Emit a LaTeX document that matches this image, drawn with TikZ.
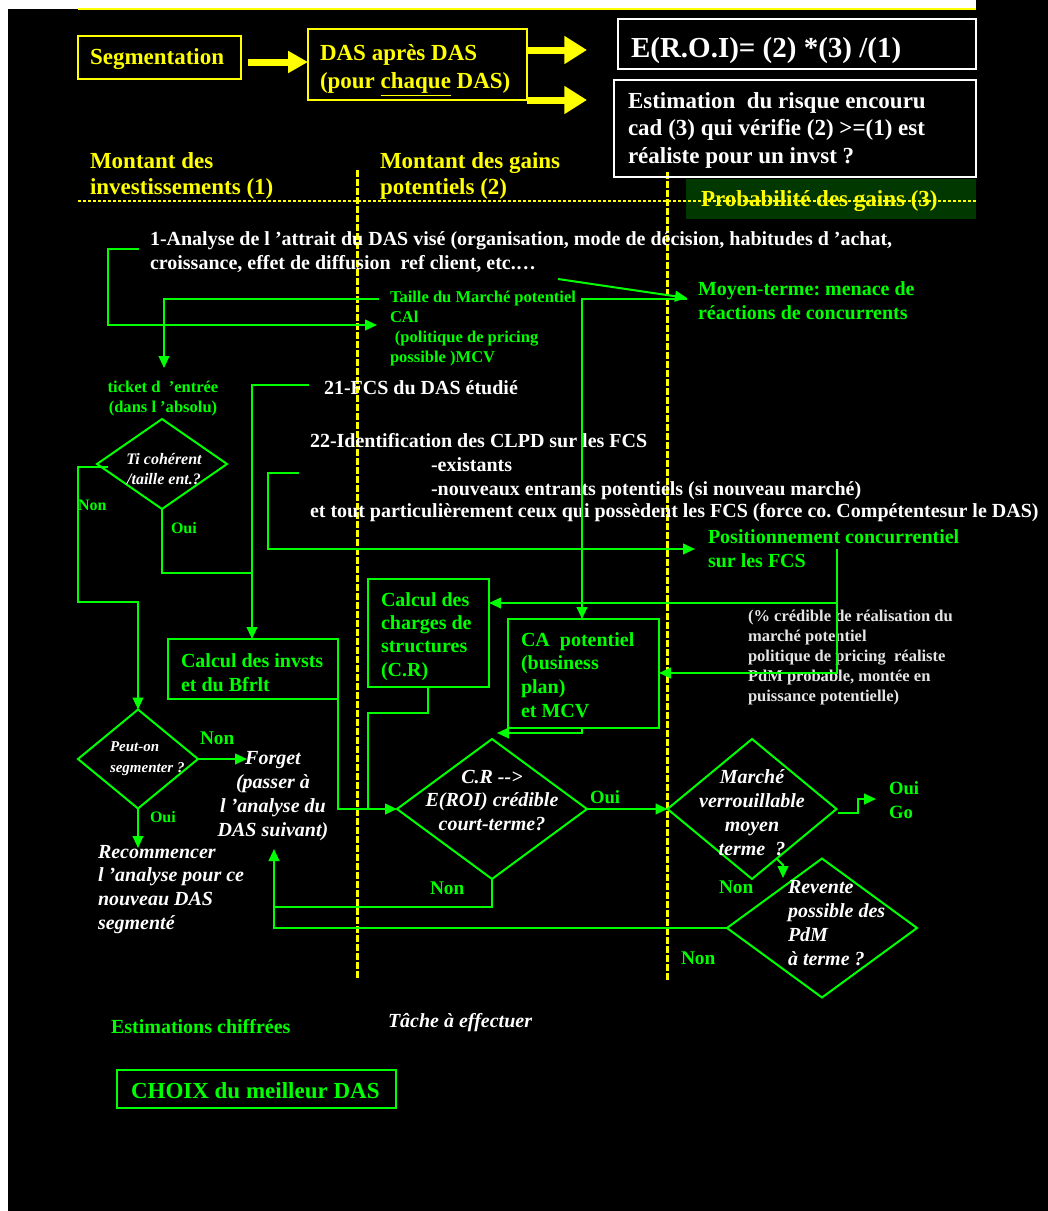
\documentclass[tikz,border=0pt]{standalone}
\usepackage{fontspec}
\setmainfont{Liberation Serif}
\usetikzlibrary{arrows.meta,shapes.geometric}
\definecolor{grn}{RGB}{0,255,0}
\definecolor{ylw}{RGB}{255,255,0}
\definecolor{dkg}{RGB}{0,56,0}
\definecolor{lgr}{RGB}{228,228,228}
\newcommand\szR{\fontsize{21.75}{26}\selectfont}
\newcommand\szA{\fontsize{17.25}{21}\selectfont}
\newcommand\szB{\fontsize{15}{18}\selectfont}
\newcommand\szC{\fontsize{12.4}{15}\selectfont}
\frenchspacing
\begin{document}
\begin{tikzpicture}[x=0.75pt,y=-0.75pt,
  txt/.style={inner sep=0pt, outer sep=0pt, anchor=base west, align=left},
  ctxt/.style={inner sep=0pt, outer sep=0pt, anchor=base, align=center},
  ln/.style={draw=grn, line width=1.5pt},
  arr/.style={ln, -{Triangle[length=9pt,width=8pt]}},
  gbox/.style={draw=grn, line width=1.5pt, rectangle, inner sep=0pt, outer sep=0pt, anchor=north west},
  ybox/.style={draw=ylw, line width=1.5pt, rectangle, inner sep=0pt, outer sep=0pt, anchor=north west},
  wbox/.style={draw=white, line width=1.5pt, rectangle, inner sep=0pt, outer sep=0pt, anchor=north west},
  dia/.style={draw=grn, line width=1.5pt, diamond, inner sep=0pt, outer sep=0pt},
  wh/.style 2 args={minimum width=#1*0.75pt, minimum height=#2*0.75pt},
  yarrA/.style={draw=ylw, line width=5.25pt, -{Triangle[length=15pt,width=15.75pt]}},
  yarrB/.style={draw=ylw, line width=5.25pt, -{Triangle[length=17pt,width=20pt]}},
  vdash/.style={draw=ylw, line width=2.25pt, dash pattern=on 5.25pt off 1.5pt},
  wt/.style={txt, text=white, font=\szB\bfseries},
  gt/.style={txt, text=grn, font=\szB\bfseries},
  wi/.style={text=white, font=\szB\bfseries\itshape},
]
\useasboundingbox (0,0) rectangle (1048,1211);
% background
\fill[white] (0,0) rectangle (1048,1211);
\fill[black] (8,9) rectangle (1048,1211);
\fill[black] (976,0) rectangle (1048,9);
\draw[ylw, line width=1.5pt] (78,9) -- (976,9);
\fill[dkg] (686,179) rectangle (976,219);
\draw[ylw, line width=1.1pt, dash pattern=on 2.25pt off 1.5pt] (78,201) -- (976,201);
\draw[vdash] (357,170) -- (357,980);
\draw[vdash] (667,172) -- (667,980);

% (multi-line nodes are anchored at the baseline of their last line)
% top boxes
\node[ybox, wh={163}{43}] (seg) at (78,36) {};
\node[txt, text=ylw, font=\szA\bfseries] (segt) at (90,64) {Segmentation};
\node[ybox, wh={219}{71}] (das) at (308,29) {};
\node[txt, text=ylw, font=\szA\bfseries] (dast) at (320,88) {DAS après DAS\\(pour \underline{chaque} DAS)};
\node[wbox, wh={358}{50}] (roi) at (618,19) {};
\node[txt, text=white, font=\szR\bfseries] (roit) at (631,57) {E(R.O.I)= (2) *(3) /(1)};
\node[wbox, wh={362}{97}] (estb) at (614,80) {};
\node[txt, text=white, font=\fontsize{17.25}{20.6}\selectfont\bfseries] (estt) at (628,163) {Estimation\ \ du risque encouru\\cad (3) qui vérifie (2) >=(1) est\\réaliste pour un invst ?};

\coordinate (r0) at (308,62);
\draw[yarrA] ([xshift=5.25pt]seg.east |- r0) -- (das.west |- r0);
\coordinate (r1) at (587,50);
\coordinate (r2) at (587,100);
\draw[yarrB] (das.east |- r1) -- (r1);
\draw[yarrB] (das.east |- r2) -- (r2);

% column headers
\node[txt, text=ylw, font=\fontsize{17.25}{19.5}\selectfont\bfseries] (h1) at (90,194) {Montant des\\investissements (1)};
\node[txt, text=ylw, font=\fontsize{17.25}{19.5}\selectfont\bfseries] (h2) at (380,194) {Montant des gains\\potentiels (2)};
\node[txt, text=ylw, font=\szA\bfseries] (h3) at (701,206) {Probabilité des gains (3)};

% white task texts
\node[wt] (t1) at (150,269) {1-Analyse de l ’attrait du DAS visé (organisation, mode de décision, habitudes d ’achat,\\croissance, effet de diffusion\ \ ref client, etc.…};
\node[wt] (t21) at (324,394) {21-FCS du DAS étudié};
\node[wt] (t22) at (310,447) {22-Identification des CLPD sur les FCS};
\node[wt] (t22a) at (431,471) {-existants};
\node[wt] (t22b) at (431,495) {-nouveaux entrants potentiels (si nouveau marché)};
\node[wt] (t22c) at (310,517) {et tout particulièrement ceux qui possèdent les FCS (force co. Compétentesur le DAS)};

% green estimates
\node[txt, text=grn, font=\szC\bfseries] (taille) at (390,362) {Taille du Marché potentiel\\CAl\\\hspace*{0.3em}(politique de pricing\\possible )MCV};
\node[gt] (moyen) at (698,319) {Moyen-terme: menace de\\réactions de concurrents};
\node[ctxt, text=grn, font=\szC\bfseries] (ticket) at (163,412) {ticket d\ \ ’entrée\\(dans l ’absolu)};
\node[gt] (posit) at (708,567) {Positionnement concurrentiel\\sur les FCS};
\node[txt, text=lgr, font=\szC\bfseries] (pct) at (748,701) {(\% crédible de réalisation du\\marché potentiel\\politique de pricing\ \ réaliste\\PdM probable, montée en\\puissance potentielle)};

% green boxes
\node[gbox, wh={121}{108}] (chg) at (368,579) {};
\node[txt, text=grn, font=\fontsize{15}{17.5}\selectfont\bfseries] (chgt) at (381,676) {Calcul des\\charges de\\structures\\(C.R)};
\node[gbox, wh={151}{109}] (ca) at (508,619) {};
\node[txt, text=grn, font=\fontsize{15}{17.75}\selectfont\bfseries] (cat) at (521,717) {CA\ \ potentiel\\(business\\plan)\\et MCV};
\node[gbox, wh={170}{60}] (inv) at (168,639) {};
\node[gt] (invt) at (181,691) {Calcul des invsts\\et du Bfrlt};
\node[gbox, wh={279}{38}] (choix) at (117,1070) {};
\node[txt, text=grn, font=\szA\bfseries] (choixt) at (131,1098) {CHOIX du meilleur DAS};
\node[gt] (estc) at (111,1033) {Estimations chiffrées};
\node[txt, wi] (tache) at (388,1027) {Tâche à effectuer};

% diamonds
\node[dia, wh={130}{90}] (d1) at (162,464) {};
\node[ctxt, text=white, font=\fontsize{12}{15}\selectfont\bfseries\itshape] (d1t) at (164,484) {Ti cohérent\\/taille ent.?};
\node[dia, wh={190}{140}] (d2) at (492,809) {};
\node[ctxt, wi, font=\fontsize{15}{17.6}\selectfont\bfseries\itshape] (d2t) at (492,830) {C.R -{}->\\E(ROI) crédible\\court-terme?};
\node[dia, wh={169}{140}] (d3) at (752,809) {};
\node[ctxt, wi] (d3t) at (752,855) {Marché\\verrouillable\\moyen\\terme\ \ ?};
\node[dia, wh={190}{139}] (d4) at (822,928) {};
\node[txt, wi] (d4t) at (788,965) {Revente\\possible des\\PdM\\à terme ?};
\node[dia, wh={120}{99}] (d5) at (138,759) {};
\node[txt, text=white, font=\fontsize{11.25}{15.75}\selectfont\bfseries\itshape] (d5t) at (110,772) {Peut-on\\segmenter ?};
\node[ctxt, wi] (forget) at (273,836) {Forget\\(passer à\\l ’analyse du\\DAS suivant)};
\node[txt, wi, font=\fontsize{15}{17.75}\selectfont\bfseries\itshape] (recom) at (98,929) {Recommencer\\l ’analyse pour ce\\nouveau DAS\\segmenté};

% labels
\node[txt, text=grn, font=\fontsize{12}{14}\selectfont\bfseries] (non1) at (78,510) {Non};
\node[txt, text=grn, font=\fontsize{12}{14}\selectfont\bfseries] (oui1) at (171,533) {Oui};
\node[txt, text=grn, font=\fontsize{14.5}{17}\selectfont\bfseries] (non5) at (200,744) {Non};
\node[txt, text=grn, font=\fontsize{12}{14}\selectfont\bfseries] (oui5) at (150,822) {Oui};
\node[txt, text=grn, font=\fontsize{14}{17}\selectfont\bfseries] (oui2) at (590,803) {Oui};
\node[txt, text=grn, font=\fontsize{14.5}{17}\selectfont\bfseries] (non2) at (430,894) {Non};
\node[txt, text=grn, font=\fontsize{14.5}{17}\selectfont\bfseries] (non3) at (719,893) {Non};
\node[txt, text=grn, font=\fontsize{14.5}{17}\selectfont\bfseries] (non4) at (681,964) {Non};
\node[txt, text=grn, font=\fontsize{14}{18}\selectfont\bfseries] (ouigo) at (889,818) {Oui\\Go};

% connector coordinates
\coordinate (cA) at (139,249);
\coordinate (cAt) at (377,325);
\coordinate (cB) at (379,299);
\coordinate (cBt) at (164,368);
\coordinate (cC) at (558,279);
\coordinate (cCt) at (687,298);
\coordinate (cD) at (687,299);
\coordinate (cE) at (309,385);
\coordinate (cG) at (299,473);
\coordinate (cGt) at (695,549);
\coordinate (cH) at (837,549);
\coordinate (cJ) at (108,467);
\coordinate (cKt) at (247,759);
\coordinate (cLt) at (138,848);
\coordinate (cQt) at (876,799);
\coordinate (cR) at (777,859);
\coordinate (cRt) at (783,878);
\coordinate (cTt) at (274,849);

% connectors
\draw[arr] (cA) -- (108,249) -- (108,325) -- (cAt);
\draw[arr] (cB) -- (164,299) -- (cBt);
\draw[arr] (cC) -- (cCt);
\draw[arr] (cD) -- (582,299) -- (ca.north -| 582,0);
\draw[arr] (cE) -- (252,385) -- (inv.north -| 252,0);
\draw[ln] (d1.south) -- (d1.south |- 0,573) -- (252,573);
\draw[arr] (cG) -- (268,473) -- (268,549) -- (cGt);
\draw[arr] (cH) -- (837,673) -- (ca.east |- 0,673);
\draw[arr] (837,603) -- (chg.east |- 0,603);
\draw[arr] (cJ) -- (78,467) -- (78,602) -- (138,602) -- (d5.north);
\draw[arr] (d5.east) -- (cKt);
\draw[arr] (d5.south) -- (cLt);
\draw[arr] (inv.south east) -- (inv.south east |- d2.west) -- (d2.west);
\draw[ln] (chg.south -| 428,0) -- (428,713) -- (368,713) -- (368,809);
\draw[arr] (ca.south -| 582,0) -- (582,733) -- (497,733);
\draw[arr] (d2.east) -- (d3.west);
\draw[arr] (838,813) -- (858,813) -- (858,799) -- (cQt);
\draw[arr] (cR) -- (783,865) -- (cRt);
\draw[ln] (d2.south) -- (d2.south |- 0,907) -- (274,907);
\draw[arr] (d4.west) -- (274,928) -- (cTt);
\end{tikzpicture}
\end{document}
